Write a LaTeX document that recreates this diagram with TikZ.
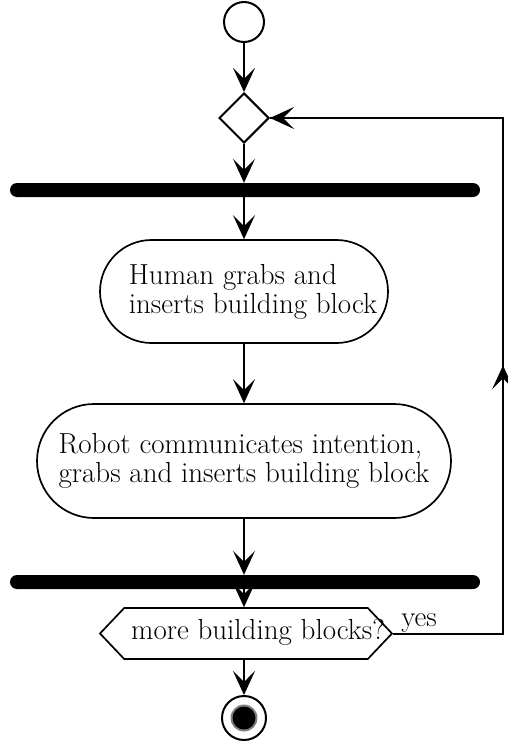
\documentclass[tikz,border=0pt]{standalone}
\usetikzlibrary{arrows.meta,shapes.geometric,shapes.misc,shapes.symbols,calc}
\begin{document}
\begin{tikzpicture}[x=1pt,y=-1pt,
  every node/.style={font=\fontsize{29}{29}\selectfont},
  arr/.style={line width=2pt,-{Stealth[length=24pt,width=22pt,inset=11pt]}},
  conn/.style={line width=2pt},
  startnode/.style={circle,draw,line width=2pt,minimum size=40pt,inner sep=0pt},
  decnode/.style={diamond,draw,line width=2pt,minimum width=50pt,minimum height=50pt,inner sep=0pt},
  barnode/.style={rectangle,fill=black,rounded corners=7pt,minimum width=470pt,minimum height=14pt,inner sep=0pt},
  actnode/.style={rounded rectangle,draw,line width=1.7pt,align=left,inner sep=0pt},
  hexnode/.style={signal,signal to=west and east,signal pointer angle=93,draw,line width=1.7pt,minimum width=292pt,minimum height=51pt,inner sep=0pt},
  finnode/.style={circle,draw,line width=2pt,minimum size=44pt,inner sep=0pt}]
\useasboundingbox (0,0) rectangle (507,749);
\node[startnode] (start) at (244,22) {};
\node[decnode] (dia) at (244,118) {};
\node[barnode] (bar1) at (245,190) {};
\node[actnode,minimum width=288pt,minimum height=103pt] (box1) at (244,291.5) {\hspace*{18pt}Human grabs and\\\hspace*{18pt}inserts building block};
\node[actnode,minimum width=414pt,minimum height=114pt] (box2) at (244,461) {Robot communicates intention,\\grabs and inserts building block};
\node[barnode] (bar2) at (245,582) {};
\node[hexnode,label={[anchor=center,inner sep=0pt,xshift=12pt,yshift=1pt]center:more building blocks?}] (hex) at (246,633.5) {};
\node[finnode] (fin) at (244,718) {};
\fill[gray] (fin.center) circle (13.5pt);
\fill[black] (fin.center) circle (11.5pt);
\coordinate (c1) at (503,633.5);
\coordinate (c2) at (503,118);
\draw[arr] (start) -- (dia.north);
\draw[arr] (dia.south) -- (dia.south |- bar1.north);
\draw[arr] (box1.north |- bar1.south) -- (box1.north);
\draw[arr] (box1.south) -- (box2.north);
\draw[arr] (box2.south) -- (box2.south |- bar2.north);
\draw[arr] (box2.south |- bar2.south) -- (box2.south |- hex.north);
\draw[arr] (fin.north |- hex.south) -- (fin.north);
\draw[conn] (hex.east) -- (c1) -- (c2) -- (dia.east);
\draw[arr] (c2) -- (dia.east);
\draw[arr] (c1) -- ($(c1)!0.52!(c2)$);
\node[anchor=base west,inner sep=0pt] (yes) at ($(hex.east)+(8,-7)$) {yes};
\end{tikzpicture}
\end{document}
